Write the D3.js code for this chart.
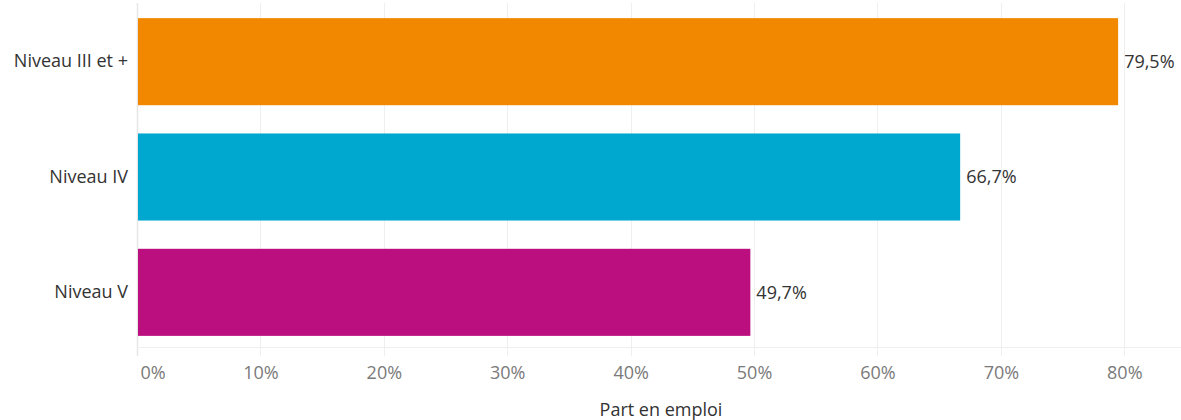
<!DOCTYPE html>
<html>
<head>
<meta charset="utf-8">
<script src="https://cdn.jsdelivr.net/npm/d3@7"></script>
<style>
  html, body { margin: 0; padding: 0; background: #fff; }
  svg { display: block; font-family: "Open Sans", "Noto Sans", sans-serif; }
</style>
</head>
<body>
<svg id="chart" width="1181" height="420"></svg>
<script>
const categories = ["Niveau III et +", "Niveau IV", "Niveau V"];
const values = [0.795, 0.667, 0.497];
const colors = ["#F18800", "#00A8D0", "#BC0F7F"];
const tickValues = [0, 0.1, 0.2, 0.3, 0.4, 0.5, 0.6, 0.7, 0.8];
const axisTitle = "Part en emploi";

const svg = d3.select("#chart");
const fmtPct = d3.format(".0%");
const fmtVal = v => (v * 100).toFixed(1).replace(".", ",") + "%";

const x = d3.scaleLinear().domain([0, 0.8]).range([137, 1124.3]);
const y = d3.scaleBand().domain(categories).range([4, 350]).paddingInner(0.245).paddingOuter(0.1225);

const plotTop = 3, plotBottom = 347, tickBottom = 356;

// vertical gridlines
svg.append("g").selectAll("line").data(tickValues).join("line")
  .attr("x1", d => Math.round(x(d)) + 0.5).attr("x2", d => Math.round(x(d)) + 0.5)
  .attr("y1", plotTop).attr("y2", tickBottom)
  .attr("stroke", d => d === 0 ? "#e6e6e6" : "#efefef").attr("stroke-width", d => d === 0 ? 1.5 : 1);

// horizontal axis line
svg.append("line")
  .attr("x1", x(0)).attr("x2", 1181)
  .attr("y1", plotBottom + 0.5).attr("y2", plotBottom + 0.5)
  .attr("stroke", "#efefef");

// bars
svg.append("g").selectAll("rect").data(categories).join("rect")
  .attr("x", x(0) + 1)
  .attr("y", d => y(d))
  .attr("width", (d, i) => x(values[i]) - x(0) - 1)
  .attr("height", y.bandwidth())
  .attr("fill", (d, i) => colors[i]);

// value labels
svg.append("g").selectAll("text").data(categories).join("text")
  .attr("x", (d, i) => x(values[i]) + 6)
  .attr("y", d => y(d) + y.bandwidth() / 2)
  .attr("dy", "0.35em")
  .attr("font-size", 18)
  .attr("fill", "#333")
  .text((d, i) => fmtVal(values[i]));

// y axis labels
const yAxis = svg.append("g")
  .attr("transform", `translate(${x(0)},0)`)
  .call(d3.axisLeft(y).tickSize(0).tickPadding(9))
  .attr("font-family", null).attr("font-size", null);
yAxis.select(".domain").remove();
yAxis.selectAll("text").attr("font-size", 18).attr("fill", "#333");

// x axis tick labels
const xAxis = svg.append("g")
  .attr("transform", `translate(0,${plotBottom})`)
  .call(d3.axisBottom(x).tickValues(tickValues).tickFormat(fmtPct).tickSize(0).tickPadding(19))
  .attr("font-family", null).attr("font-size", null);
xAxis.select(".domain").remove();
xAxis.selectAll("text").attr("font-size", 18).attr("fill", "#7a7a7a");
xAxis.selectAll(".tick").filter(d => d === 0).select("text")
  .attr("text-anchor", "start").attr("x", 3);

// axis title
svg.append("text")
  .attr("x", 661).attr("y", 416)
  .attr("text-anchor", "middle")
  .attr("font-size", 18).attr("fill", "#333")
  .text(axisTitle);
</script>
</body>
</html>
